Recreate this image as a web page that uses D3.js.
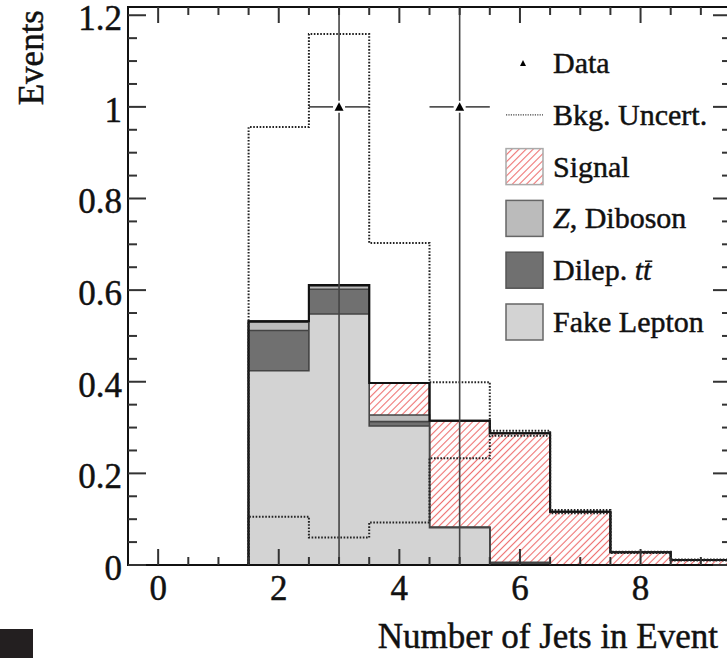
<!DOCTYPE html>
<html><head><meta charset="utf-8">
<script src="https://cdn.jsdelivr.net/npm/d3@7"></script>
<style>body{margin:0;background:#fff}svg{display:block}text{font-family:'Liberation Serif','Times New Roman',serif;fill:#111;stroke:#111;stroke-width:0.45px}</style>
</head><body><svg id="c" width="727" height="658"></svg>
<script>
// ---- data ----
const binCenters = [0,1,2,3,4,5,6,7,8,9];
const fakeLepton = [0,0,0.424,0.548,0.3035,0.0815,0.002,0,0,0];
const dilepTT    = [0,0,0.088,0.054,0.0095,0.001,0.003,0,0,0];
const zDiboson   = [0,0,0.018,0.007,0.0145,0,0.001,0,0,0];
const signal     = [0,0,0.002,0.002,0.0695,0.2325,0.2815,0.1165,0.0277,0.011];
const uncertUp   = [0,0,0.956,1.159,0.703,0.399,0.293,0.12,0.029,0.012];
const uncertDown = [0,0,0.1055,0.06,0.093,0.233,0.282,0.113,0.026,0.010];
const dataX = [3,5];
const dataY = [1,1];
const xTickLabels = [0,2,4,6,8];
const yTickLabels = [0,0.2,0.4,0.6,0.8,1,1.2];
const legendLabels = ["Data","Bkg. Uncert.","Signal","Z, Diboson","Dilep. tt","Fake Lepton"];

const svg = d3.select("#c");
const x = d3.scaleLinear().domain([-0.5,9.5]).range([128,731]);
const y = d3.scaleLinear().domain([0,1.218]).range([565,7]);

const defs = svg.append("defs");
const pat = defs.append("pattern").attr("id","hatch").attr("patternUnits","userSpaceOnUse")
  .attr("width",5).attr("height",5).attr("patternTransform","rotate(45)");
pat.append("rect").attr("width",5).attr("height",5).attr("fill","#fff");
pat.append("line").attr("x1",2.5).attr("x2",2.5).attr("y1",0).attr("y2",5)
  .attr("stroke","#ee7070").attr("stroke-width",1.1);

// cumulative stacks
const cumFake = fakeLepton.slice();
const cumDilep = cumFake.map((v,i)=>v+dilepTT[i]);
const cumZ = cumDilep.map((v,i)=>v+zDiboson[i]);
const cumTot = cumZ.map((v,i)=>v+signal[i]);

function stepPts(vals){
  const pts=[[x(-0.5),y(0)]];
  vals.forEach((v,i)=>{pts.push([x(binCenters[i]-0.5),y(v)]);pts.push([x(binCenters[i]+0.5),y(v)]);});
  pts.push([x(9.5),y(0)]);
  return pts;
}
const line = d3.line();
const layers = [
  {vals:cumTot, fill:"url(#hatch)", stroke:"#222", sw:2},
  {vals:cumZ, fill:"#bbbbbb", stroke:"#444", sw:1.6},
  {vals:cumDilep, fill:"#707070", stroke:"#444", sw:1.6},
  {vals:cumFake, fill:"#d3d3d3", stroke:"#444", sw:1.6}
];
layers.forEach(l=>{
  svg.append("path").attr("d",line(stepPts(l.vals))).attr("fill",l.fill)
    .attr("stroke",l.stroke).attr("stroke-width",l.sw).attr("stroke-linejoin","miter");
});
svg.append("path").attr("d",line(stepPts(cumTot).slice(1,-1))).attr("fill","none")
  .attr("stroke","#111").attr("stroke-width",2);

// uncertainty
[uncertUp,uncertDown].forEach(u=>{
  svg.append("path").attr("d",line(stepPts(u))).attr("fill","none")
    .attr("stroke","#222").attr("stroke-width",2).attr("stroke-dasharray","1.6,1.6");
});

// data
dataX.forEach((dx,i)=>{
  const cx=x(dx), cy=y(dataY[i]);
  const g=svg.append("g").attr("stroke","#444").attr("stroke-width",1.6);
  g.append("line").attr("x1",cx).attr("x2",cx).attr("y1",y(1.218)).attr("y2",cy-6);
  g.append("line").attr("x1",cx).attr("x2",cx).attr("y1",cy+6).attr("y2",y(0));
  g.append("line").attr("x1",x(dx-0.5)).attr("x2",cx-6).attr("y1",cy).attr("y2",cy);
  g.append("line").attr("x1",cx+6).attr("x2",x(dx+0.5)).attr("y1",cy).attr("y2",cy);
  svg.append("path").attr("d",`M${cx-4.5},${cy+4}L${cx+4.5},${cy+4}L${cx},${cy-4.5}Z`).attr("fill","#000");
});

// frame & ticks
const frame = svg.append("g").attr("stroke","#111").attr("stroke-width",2).attr("fill","none");
frame.append("path").attr("d",`M${x(9.5)},${y(1.218)}H${x(-0.5)}V${y(0)}H${x(9.5)}V${y(1.218)}`);
const tk = svg.append("g").attr("stroke","#333").attr("stroke-width",2);
d3.range(-0.5,9.51,0.5).forEach(v=>{
  if(v<=-0.5||v>=9.5) return;
  const major = Math.abs(v%2)<1e-9;
  const L = major?16:8;
  tk.append("line").attr("x1",x(v)).attr("x2",x(v)).attr("y1",y(0)).attr("y2",y(0)-L);
  tk.append("line").attr("x1",x(v)).attr("x2",x(v)).attr("y1",y(1.218)).attr("y2",y(1.218)+L);
});
d3.range(0,1.2001,0.05).forEach(v=>{
  const major = Math.abs(Math.round(v*10)/10 - v)<1e-6 && Math.round(v*10)%2===0;
  const L = major?18:9;
  tk.append("line").attr("x1",x(-0.5)).attr("x2",x(-0.5)+L).attr("y1",y(v)).attr("y2",y(v));
  tk.append("line").attr("x1",x(9.5)).attr("x2",x(9.5)-L).attr("y1",y(v)).attr("y2",y(v));
});
xTickLabels.forEach(v=>{
  svg.append("text").attr("x",x(v)).attr("y",600).attr("text-anchor","middle")
    .attr("font-size",35).text(v);
});
yTickLabels.forEach(v=>{
  svg.append("text").attr("x",122).attr("y",y(v)+15).attr("text-anchor","end")
    .attr("font-size",35).text(v);
});
svg.append("text").attr("x",718).attr("y",648).attr("text-anchor","end").attr("font-size",35)
  .text("Number of Jets in Event");
svg.append("text").attr("transform","translate(43,10) rotate(-90)").attr("text-anchor","end")
  .attr("font-size",35).text("Events");

// legend
const ly = d3.scaleLinear().domain([0,5]).range([63,322]);
const leg = svg.append("g");
legendLabels.forEach((lab,i)=>{
  const cy = ly(i);
  if(i===0){
    leg.append("path").attr("d",`M${520},${cy+3}L${526},${cy+3}L${523},${cy-3}Z`).attr("fill","#000");
  } else if(i===1){
    leg.append("line").attr("x1",506).attr("x2",543).attr("y1",cy).attr("y2",cy)
      .attr("stroke","#444").attr("stroke-width",1.2).attr("stroke-dasharray","1.2,1.2");
  } else {
    const fills=[null,null,"url(#hatch)","#bbbbbb","#707070","#d3d3d3"];
    const strokes=[null,null,"#aaa","#666","#555","#666"];
    leg.append("rect").attr("x",506).attr("y",cy-18).attr("width",37).attr("height",36)
      .attr("fill",fills[i]).attr("stroke",strokes[i]).attr("stroke-width",1.5);
  }
  const t = leg.append("text").attr("x",553).attr("y",cy+10).attr("font-size",30);
  if(i===3){
    t.append("tspan").attr("font-style","italic").text("Z");
    t.append("tspan").text(", Diboson");
  } else if(i===4){
    t.append("tspan").text("Dilep. ");
    t.append("tspan").attr("font-style","italic").text("tt");
    const n = t.node();
    const k = n.getNumberOfChars()-1;
    const ext = n.getExtentOfChar(k);
    leg.append("line").attr("x1",ext.x+2).attr("x2",ext.x+ext.width+1)
      .attr("y1",cy-9).attr("y2",cy-9).attr("stroke","#111").attr("stroke-width",1.5);
  } else t.text(lab);
});

// dark block bottom-left
svg.append("rect").attr("x",0).attr("y",629).attr("width",33).attr("height",29).attr("fill","#231f20");
</script></body></html>
